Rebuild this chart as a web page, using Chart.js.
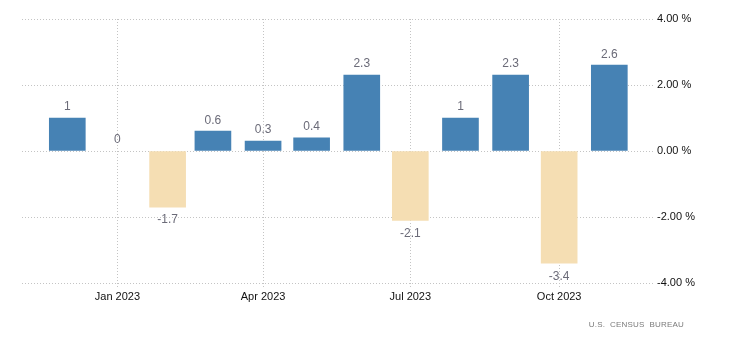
<!DOCTYPE html>
<html>
<head>
<meta charset="utf-8">
<script src="https://cdn.jsdelivr.net/npm/chart.js@4/dist/chart.umd.min.js"></script>
<style>
  html, body { margin: 0; padding: 0; background: #fff; }
  #wrap { position: relative; width: 730px; height: 351px; }
  #source { position: absolute; right: 46px; top: 320px; font: 8px "Liberation Sans", Arial, sans-serif; color: #7a7a7a; letter-spacing: 0.2px; white-space: pre; }
</style>
</head>
<body>
<div id="wrap">
  <canvas id="c" width="730" height="351"></canvas>
  <div id="source">U.S.  CENSUS  BUREAU</div>
</div>
<script>
const categories = ['2022-12-01','2023-01-01','2023-02-01','2023-03-01','2023-04-01','2023-05-01','2023-06-01','2023-07-01','2023-08-01','2023-09-01','2023-10-01','2023-11-01'];
const values = [1, 0, -1.7, 0.6, 0.3, 0.4, 2.3, -2.1, 1, 2.3, -3.4, 2.6];
const tickDates = ['2023-01-01','2023-04-01','2023-07-01','2023-10-01'];
const tickLabels = ['Jan 2023','Apr 2023','Jul 2023','Oct 2023'];
const yTicks = [-4, -2, 0, 2, 4];

function day(s) { const p = s.split('-').map(Number); return Date.UTC(p[0], p[1]-1, p[2]) / 86400000; }

const points = categories.map((c, i) => ({ x: day(c), y: values[i] }));
const tickValues = tickDates.map(day);

const labelPlugin = {
  id: 'valueLabels',
  afterDatasetsDraw(chart) {
    const ctx = chart.ctx;
    const meta = chart.getDatasetMeta(0);
    ctx.save();
    ctx.font = '12px "Liberation Sans", Arial, sans-serif';
    ctx.fillStyle = '#6b6b78';
    ctx.textAlign = 'center';
    meta.data.forEach((bar, i) => {
      const v = values[i];
      const txt = String(v);
      if (v >= 0) {
        ctx.textBaseline = 'bottom';
        ctx.fillText(txt, bar.x, bar.y - 5);
      } else {
        ctx.textBaseline = 'top';
        ctx.fillText(txt, bar.x, bar.y + 7);
      }
    });
    ctx.restore();
  }
};

new Chart(document.getElementById('c'), {
  type: 'bar',
  data: {
    datasets: [{
      data: points,
      backgroundColor: values.map(v => v > 0 ? '#4682b4' : (v < 0 ? '#f5deb3' : 'rgba(0,0,0,0)')),
      borderWidth: 0,
      barThickness: 36
    }]
  },
  options: {
    responsive: false,
    animation: false,
    devicePixelRatio: 1,
    layout: { padding: { left: 22, right: 0, top: 19, bottom: 0 } },
    plugins: { legend: { display: false }, tooltip: { enabled: false } },
    scales: {
      x: {
        type: 'linear',
        offset: false,
        min: day(categories[0]) - 28,
        max: day(categories[categories.length - 1]) + 27,
        afterBuildTicks(scale) { scale.ticks = tickValues.map(v => ({ value: v })); },
        afterFit(scale) { scale.height = 68; },
        border: { display: false, dash: [1, 2] },
        grid: { color: '#c4c4c4', tickLength: 5, offset: false, tickBorderDash: [1, 2], tickColor: '#c4c4c4' },
        ticks: {
          autoSkip: false,
          maxRotation: 0,
          padding: 2,
          color: '#111',
          font: { family: '"Liberation Sans", Arial, sans-serif', size: 11 },
          callback(v) { const i = tickValues.indexOf(v); return i >= 0 ? tickLabels[i] : ''; }
        }
      },
      y: {
        position: 'right',
        min: -4,
        max: 4,
        afterBuildTicks(scale) { scale.ticks = yTicks.map(v => ({ value: v })); },
        afterFit(scale) { scale.width = 77; },
        border: { display: false, dash: [1, 2] },
        grid: { color: '#c4c4c4', drawTicks: false },
        ticks: {
          padding: 4,
          color: '#111',
          font: { family: '"Liberation Sans", Arial, sans-serif', size: 11 },
          callback(v) { return v.toFixed(2) + ' %'; }
        }
      }
    }
  },
  plugins: [labelPlugin]
});
</script>
</body>
</html>
